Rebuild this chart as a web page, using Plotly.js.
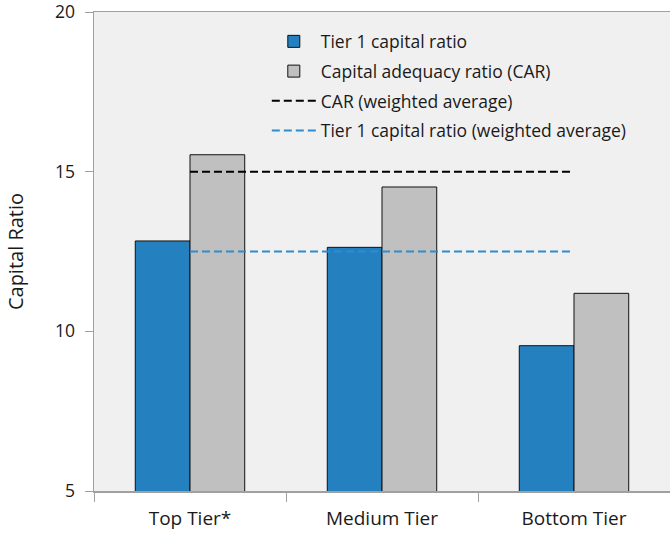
<!DOCTYPE html>
<html>
<head>
<meta charset="utf-8">
<script src="https://cdn.plot.ly/plotly-3.0.1.min.js"></script>
<style>
  body { margin: 0; background: #fff; }
  #chart { width: 670px; height: 533px; }
</style>
</head>
<body>
<div id="chart"></div>
<script>
var tiers = ['Top Tier*', 'Medium Tier', 'Bottom Tier'];
var tier1Ratio = [12.83, 12.63, 9.55];
var carRatio = [15.53, 14.52, 11.19];
var carAvg = [15.0, 15.0, 15.0];
var tier1Avg = [12.5, 12.5, 12.5];

var blue = '#2580bf';
var gray = '#c0c0c0';

var traces = [
  {
    x: tiers, y: tier1Ratio, name: 'Tier 1 capital ratio', type: 'bar',
    legendgroup: 'a',
    marker: { color: blue, line: { color: '#111', width: 1 } }
  },
  {
    x: tiers, y: carRatio, name: 'Capital adequacy ratio (CAR)', type: 'bar',
    legendgroup: 'b',
    marker: { color: gray, line: { color: '#111', width: 1 } }
  },
  {
    x: tiers, y: carAvg, name: 'CAR (weighted average)', type: 'scatter', mode: 'lines',
    legendgroup: 'c',
    line: { color: '#000', width: 2, dash: '8px,4px' }
  },
  {
    x: tiers, y: tier1Avg, name: 'Tier 1 capital ratio (weighted average)', type: 'scatter', mode: 'lines',
    legendgroup: 'd',
    line: { color: '#2e8bd0', width: 2, dash: '8px,4px' }
  }
];

var layout = {
  width: 670,
  height: 533,
  margin: { l: 94, r: 0, t: 12, b: 42 },
  paper_bgcolor: '#ffffff',
  plot_bgcolor: '#f0f0f0',
  font: { family: 'Open Sans, sans-serif', size: 18, color: '#1a1a1a' },
  barmode: 'group',
  bargap: 0.43,
  bargroupgap: 0,
  showlegend: true,
  legend: {
    x: 0.3, y: 0.976, xanchor: 'left', yanchor: 'top',
    bgcolor: 'rgba(0,0,0,0)',
    font: { size: 17.5 },
    itemwidth: 44,
    tracegroupgap: 4,
    traceorder: 'grouped'
  },
  xaxis: {
    showline: true, linecolor: '#a0a0a0', linewidth: 1.5, mirror: true,
    ticks: 'outside', tickson: 'boundaries', ticklen: 9, tickcolor: '#a0a0a0',
    ticklabelstandoff: 10,
    showgrid: false, zeroline: false,
    tickfont: { size: 19 }
  },
  yaxis: {
    title: { text: 'Capital Ratio', font: { size: 20 }, standoff: 26 },
    range: [5, 20], tickvals: [5, 10, 15, 20],
    showline: true, linecolor: '#a0a0a0', linewidth: 1.5,
    ticks: 'outside', ticklen: 8, tickcolor: '#a0a0a0',
    ticklabelstandoff: 6,
    ticklabeloverflow: 'allow',
    showgrid: false, zeroline: false,
    tickfont: { size: 17.5 }
  }
};

Plotly.newPlot('chart', traces, layout, { displayModeBar: false, staticPlot: true });
</script>
</body>
</html>
